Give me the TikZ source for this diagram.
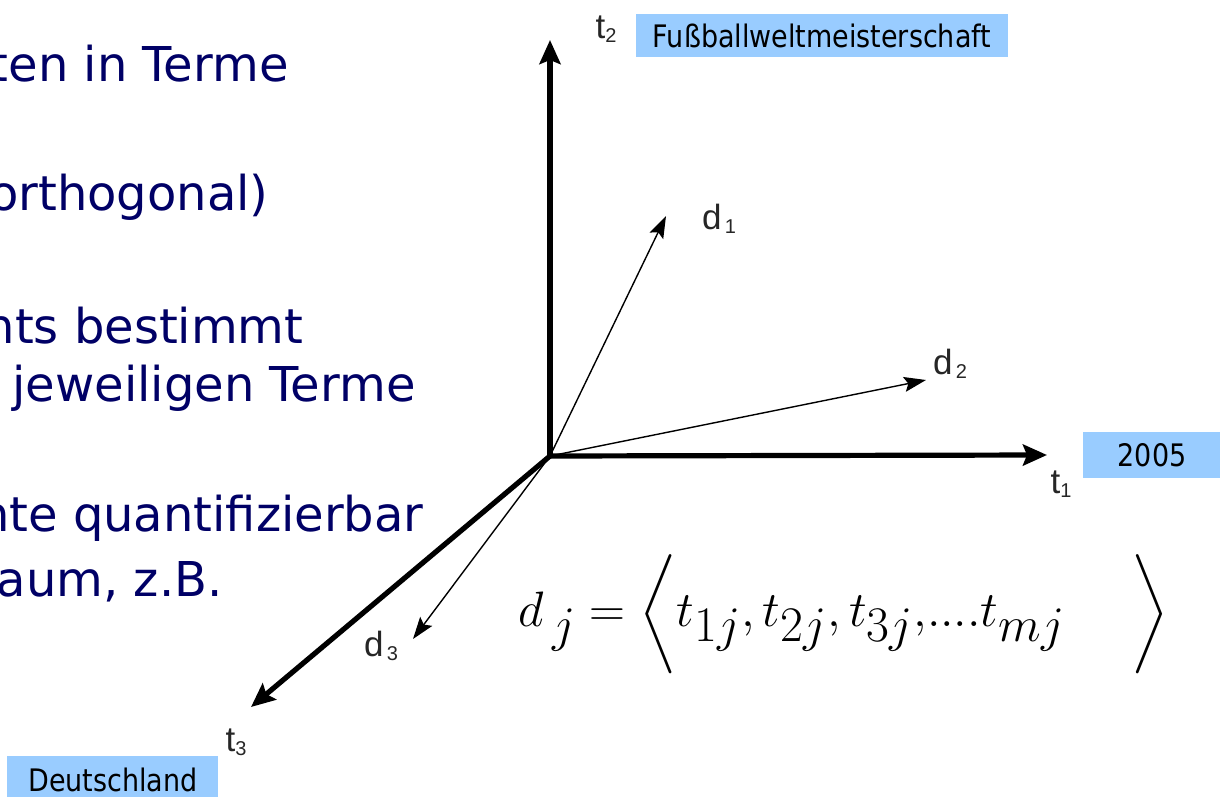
\documentclass[tikz,border=0pt]{standalone}
\usepackage{fontspec}
\usepackage{amsmath}
\setmainfont{DejaVu Sans}
\newfontfamily\labelfont{Liberation Sans}
\newfontfamily\tagfont[FakeStretch=0.87]{DejaVu Sans}
\usetikzlibrary{arrows.meta}
\definecolor{slidenavy}{RGB}{0,0,102}
\definecolor{tagblue}{RGB}{153,204,255}
% axis / vector label with a small lowered index
\newcommand{\axsub}[2]{#1{\fontsize{10}{11}\selectfont\raisebox{-2pt}{#2}}}
\begin{document}
\begin{tikzpicture}[x=0.5pt, y=-0.5pt,
    axis/.style={line width=2.6pt, -{Stealth[length=12pt, width=10.5pt, inset=2pt]}},
    vec/.style={line width=0.7pt, -{Stealth[length=11pt, width=7.5pt, inset=2pt]}},
    bullet/.style={text=slidenavy, font=\fontsize{24}{28}\selectfont, anchor=base east, inner sep=0pt},
    tag/.style={fill=tagblue, font=\tagfont\fontsize{15.5}{18}\selectfont, inner sep=0pt},
    axlabel/.style={text=black!85, font=\labelfont\fontsize{17.5}{20}\selectfont, inner sep=0pt}]
  \useasboundingbox (0,0) rectangle (1220,797);
  \clip (0,0) rectangle (1220,797);

  % Slide text, cut off at the left edge
  \node[bullet] (l1) at (289,82) {ten in Terme};
  \node[bullet] (l2) at (269,210) {orthogonal)};
  \node[bullet] (l3) at (304,343) {nts bestimmt};
  \node[bullet] (l4) at (416,401) {jeweiligen Terme};
  \node[bullet] (l5) at (424,531) {nte quantifizierbar};
  \node[bullet] (l6) at (223,596) {aum, z.B.};

  % Origin and axis ends
  \coordinate (O) at (550,456);
  \coordinate (T1) at (1047,455);
  \coordinate (T2) at (550,40);
  \coordinate (T3) at (251,707);

  % Axes
  \draw[axis] (O) -- (T1);
  \draw[axis] (O) -- (T2);
  \draw[axis] (O) -- (T3);

  % Document vectors
  \coordinate (D1) at (666,216);
  \coordinate (D2) at (926,380);
  \coordinate (D3) at (413,639);
  \draw[vec] (O) -- (D1);
  \draw[vec] (O) -- (D2);
  \draw[vec] (O) -- (D3);

  % Labels
  \node[axlabel] (t1) at (1061,484) {\axsub{t}{1}};
  \node[axlabel] (t2) at (606,29) {\axsub{t}{2}};
  \node[axlabel] (t3) at (236,742) {\axsub{t}{3}};
  \node[axlabel] (d1) at (719,219) {\axsub{d}{\,1}};
  \node[axlabel] (d2) at (950,364) {\axsub{d}{\,2}};
  \node[axlabel] (d3) at (381,646) {\axsub{d}{\,3}};

  % Term tags
  \node[tag, minimum width=186pt, minimum height=21.5pt] (fwm) at (822,35.5) {Fußballweltmeisterschaft};
  \node[tag, minimum width=69pt, minimum height=23pt] (year) at (1152,455) {2005};
  \node[tag, minimum width=105.5pt, minimum height=24pt, anchor=north west] (de) at (7,756) {\raisebox{-4pt}{Deutschland}};

  % Vector of term weights
  \node[inner sep=0pt, anchor=west, font=\fontsize{33}{36}\selectfont] (dj) at (518,614)
    {$d_{\,j} = \bigg\langle t_{1j}, t_{2j}, t_{3j},\!....t_{mj}\quad\bigg\rangle$};
\end{tikzpicture}
\end{document}
